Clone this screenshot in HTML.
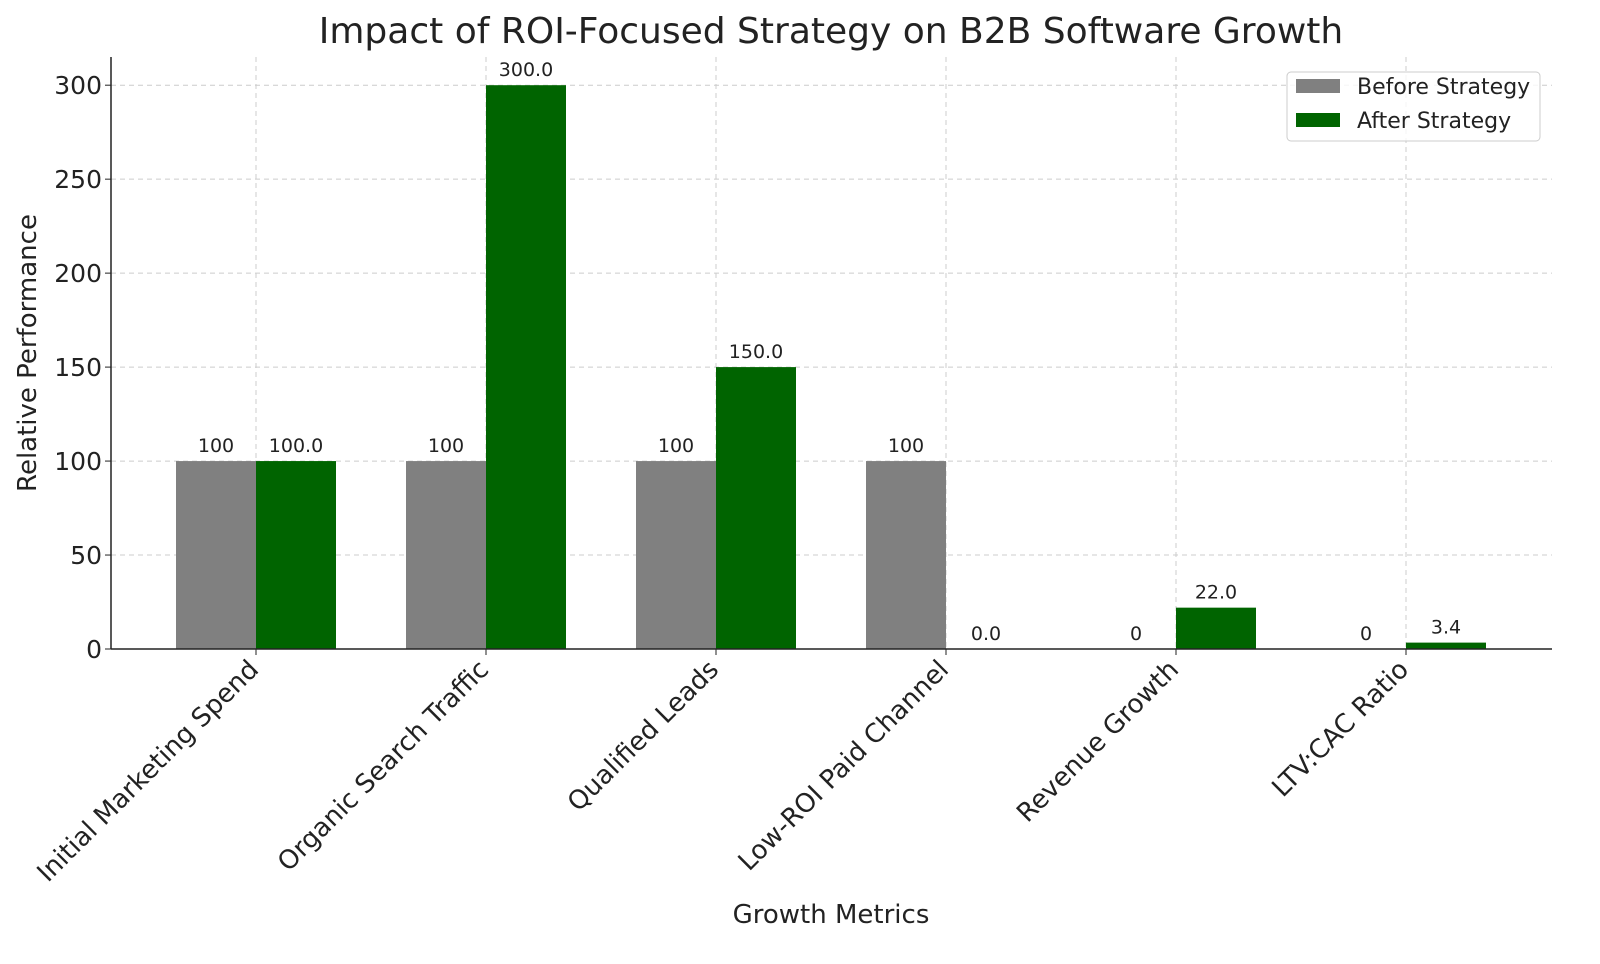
<!DOCTYPE html>
<html><head><meta charset="utf-8"><style>
body{margin:0;background:#fff;}
svg{display:block;font-family:"DejaVu Sans","Liberation Sans",sans-serif;}
</style></head><body>
<svg id="chart" width="1600" height="964">
<text x="831" y="43" font-size="36" text-anchor="middle" fill="#222">Impact of ROI-Focused Strategy on B2B Software Growth</text>
<g id="grid"></g><g id="bars"></g><g id="axes"></g>
<text x="831" y="923" font-size="26" text-anchor="middle" fill="#222">Growth Metrics</text>
<text transform="translate(36,353) rotate(-90)" font-size="26" text-anchor="middle" fill="#222">Relative Performance</text>
<g>
<rect x="1287" y="72" width="253" height="69" rx="4" fill="#fff" fill-opacity="0.8" stroke="#ccc"/>
<rect x="1296" y="79" width="44" height="14" fill="#808080"/>
<text x="1357" y="94" font-size="22" fill="#222">Before Strategy</text>
<rect x="1296" y="113" width="44" height="14" fill="#006400"/>
<text x="1357" y="128" font-size="22" fill="#222">After Strategy</text>
</g>
</svg>
<script>
const categories=["Initial Marketing Spend","Organic Search Traffic","Qualified Leads","Low-ROI Paid Channel","Revenue Growth","LTV:CAC Ratio"];
const beforeValues=[100,100,100,100,0,0];
const afterValues=[100,300,150,0,22,3.4];
const beforeLabels=["100","100","100","100","0","0"];
const afterLabels=["100.0","300.0","150.0","0.0","22.0","3.4"];
const yTicks=[0,50,100,150,200,250,300];
const NS="http://www.w3.org/2000/svg";
const L=111,R=1552,T=57,B=649,yMax=315;
const band=230;
function xC(i){return 256+i*band;}
function y(v){return B-v/yMax*(B-T);}
function mk(tag,attrs,parent,text){const e=document.createElementNS(NS,tag);for(const k in attrs)e.setAttribute(k,attrs[k]);if(text!==undefined)e.textContent=text;document.getElementById(parent).appendChild(e);return e;}
yTicks.forEach(t=>{
 const g=mk('line',{x1:L,x2:R,y1:y(t),y2:y(t),stroke:'#ccc','stroke-dasharray':'5,4'},'grid');
 
 
 const tk=mk('line',{x1:L-6,x2:L,y1:y(t),y2:y(t),stroke:'#222'},'axes');
 
 
 const tx=mk('text',{x:L-9,y:y(t)+9,'font-size':25,'text-anchor':'end',fill:'#222'},'axes',String(t));
 
 
});
categories.forEach((c,i)=>{
 const x=xC(i);
 const g=mk('line',{x1:x,x2:x,y1:T,y2:B,stroke:'#ccc','stroke-dasharray':'5,4'},'grid');
 
 
 const b1=mk('rect',{x:x-80,y:y(beforeValues[i]),width:80,height:B-y(beforeValues[i]),fill:'#808080'},'bars');
 
 
 const b2=mk('rect',{x:x,y:y(afterValues[i]),width:80,height:B-y(afterValues[i]),fill:'#006400'},'bars');
 
 
 const l1=mk('text',{x:x-40,y:y(beforeValues[i])-9,'font-size':19,'text-anchor':'middle',fill:'#222'},'bars',beforeLabels[i]);
 
 
 const l2=mk('text',{x:x+40,y:y(afterValues[i])-9,'font-size':19,'text-anchor':'middle',fill:'#222'},'bars',afterLabels[i]);
 
 
 const tk=mk('line',{x1:x,x2:x,y1:B,y2:B+6,stroke:'#222'},'axes');
 
 
 const tx=mk('text',{transform:`translate(${x+4},${B+22}) rotate(-45)`,'font-size':26,'text-anchor':'end',fill:'#222'},'axes',c);
 
 
});
const ax=mk('line',{x1:L,x2:L,y1:T,y2:B,stroke:'#222','stroke-width':1.5},'axes');


const bx=mk('line',{x1:L,x2:R,y1:B,y2:B,stroke:'#222','stroke-width':1.5},'axes');


</script>
</body></html>
